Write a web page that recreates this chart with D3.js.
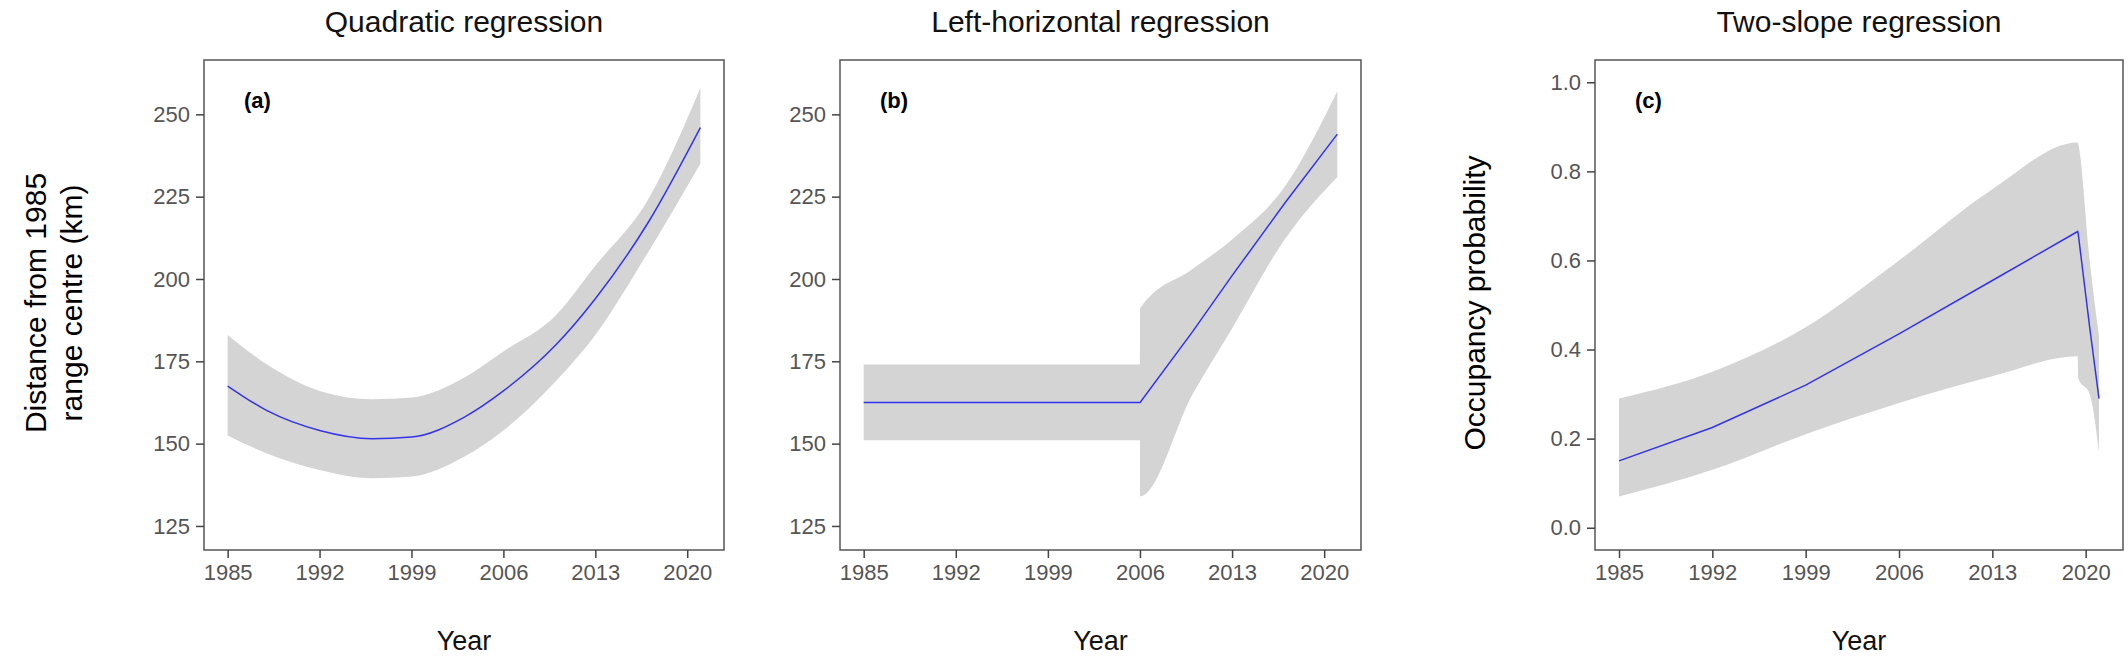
<!DOCTYPE html><html><head><meta charset="utf-8"><script src="https://cdn.jsdelivr.net/npm/d3@7"></script>
<style>body{margin:0;background:#fff}text{font-family:"Liberation Sans",Arial,sans-serif}</style></head><body>
<svg id="c" width="2128" height="664"></svg>
<script>
const xTicks=[1985,1992,1999,2006,2013,2020];
const titles=["Quadratic regression","Left-horizontal regression","Two-slope regression"];
const tags=["(a)","(b)","(c)"];
const kmTicks=[125,150,175,200,225,250];
const probTicks=[0.0,0.2,0.4,0.6,0.8,1.0];
// panel a
const aYears=[1985,1988,1992,1996,1999,2003,2006,2010,2013,2017,2021];
const aFit=[167.5,160,154,151.5,152,158,166,180,194,217,246];
const aHi=[183,174,166,163.5,164,170,178,189,204,224,258];
const aLo=[152.5,147,142,139.5,140,146,154,169,183,208,235];
// panel b
const bYears=[1985,2006,2006.01,2010,2013,2017,2021];
const bFit=[162.5,162.5,162.5,184,201,223,244];
const bHi=[174,174,191,203,212,228,257];
const bLo=[151,151,134,165,185,212,231];
// panel c
const cYears=[1985,1992,1999,2006,2013,2019.4,2019.45,2020.3,2021];
const cFit=[0.15,0.225,0.32,0.435,0.555,0.665,0.658,0.45,0.29];
const cHi=[0.29,0.35,0.45,0.6,0.76,0.865,0.86,0.6,0.43];
const cLo=[0.07,0.13,0.21,0.28,0.34,0.385,0.335,0.3,0.17];

const svg=d3.select("#c");
const pTop=60,pBot=550;
const panels=[
 {l:204,r:724,yd:[117.7,266.5],yt:kmTicks,fmt:d3.format("d"),yr:aYears,f:aFit,h:aHi,lo:aLo},
 {l:840,r:1361,yd:[117.7,266.5],yt:kmTicks,fmt:d3.format("d"),yr:bYears,f:bFit,h:bHi,lo:bLo},
 {l:1595,r:2123,yd:[-0.05,1.05],yt:probTicks,fmt:d3.format(".1f"),yr:cYears,f:cFit,h:cHi,lo:cLo}];
panels.forEach((p,i)=>{
 const x=d3.scaleLinear().domain([1983.2,2022.8]).range([p.l,p.r]);
 const y=d3.scaleLinear().domain(p.yd).range([pBot,pTop]);
 const g=svg.append("g");
 const idx=d3.range(p.yr.length);
 g.append("path").attr("fill","#d4d4d4").attr("d",d3.area().x(k=>x(p.yr[k])).y0(k=>y(p.lo[k])).y1(k=>y(p.h[k])).curve(d3.curveMonotoneX)(idx));
 g.append("path").attr("fill","none").attr("stroke","#3333ee").attr("stroke-width",1.5).attr("d",d3.line().x(k=>x(p.yr[k])).y(k=>y(p.f[k])).curve(i==0?d3.curveMonotoneX:d3.curveLinear)(idx));
 g.append("rect").attr("x",p.l).attr("y",pTop).attr("width",p.r-p.l).attr("height",pBot-pTop).attr("fill","none").attr("stroke","#555").attr("stroke-width",1.5);
 const xa=g.append("g").attr("transform",`translate(0,${pBot})`).call(d3.axisBottom(x).tickValues(xTicks).tickFormat(d3.format("d")).tickSize(8).tickPadding(6));
 const ya=g.append("g").attr("transform",`translate(${p.l},0)`).call(d3.axisLeft(y).tickValues(p.yt).tickFormat(p.fmt).tickSize(8).tickPadding(6));
 [xa,ya].forEach(a=>{a.select(".domain").remove();a.selectAll("line").attr("stroke","#444").attr("stroke-width",1.5);a.selectAll("text").attr("fill","#555").style("font-size","22px");});
 g.append("text").attr("x",(p.l+p.r)/2).attr("y",32).attr("text-anchor","middle").style("font-size","30px").attr("fill","#111").text(titles[i]);
 g.append("text").attr("x",(p.l+p.r)/2).attr("y",650).attr("text-anchor","middle").style("font-size","27px").attr("fill","#111").text("Year");
 g.append("text").attr("x",p.l+40).attr("y",108).style("font-size","22px").style("font-weight","bold").text(tags[i]);
});
svg.append("text").attr("transform","translate(46,303) rotate(-90)").attr("text-anchor","middle").style("font-size","30px").text("Distance from 1985");
svg.append("text").attr("transform","translate(82,303) rotate(-90)").attr("text-anchor","middle").style("font-size","30px").text("range centre (km)");
svg.append("text").attr("transform","translate(1485,303) rotate(-90)").attr("text-anchor","middle").style("font-size","30px").text("Occupancy probability");
</script></body></html>
